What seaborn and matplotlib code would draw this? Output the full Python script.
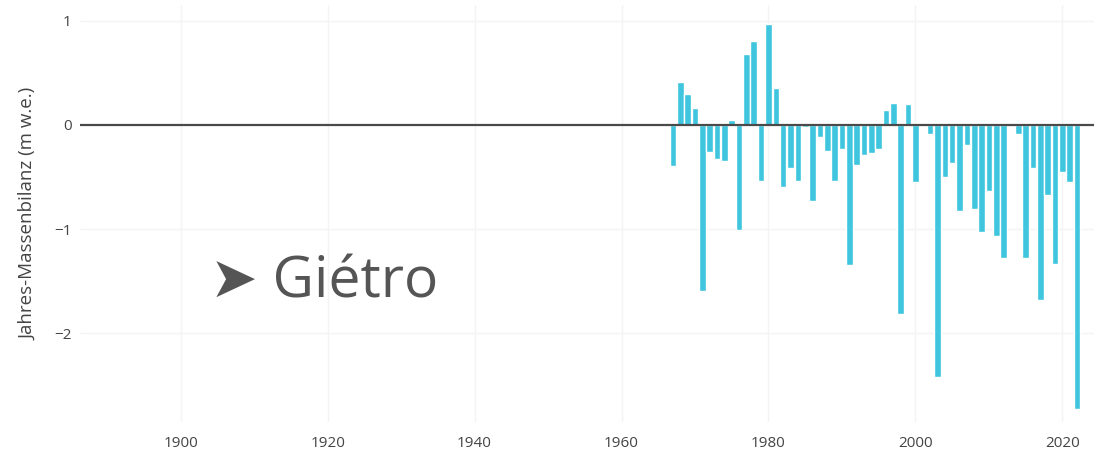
import numpy as np
import pandas as pd
import matplotlib
matplotlib.use("Agg")
import matplotlib.pyplot as plt
import seaborn as sns

# Annual mass balance, Giétro glacier (m w.e.)
years = list(range(1967, 2023))
balance = [
    -0.39, 0.41, 0.30, 0.16, -1.59, -0.26, -0.33, -0.35, 0.05, -1.01,
    0.68, 0.80, -0.54, 0.97, 0.35, -0.60, -0.41, -0.54, -0.02, -0.73,
    -0.12, -0.25, -0.54, -0.23, -1.34, -0.38, -0.29, -0.27, -0.23, 0.14,
    0.21, -1.81, 0.20, -0.55, 0.01, -0.09, -2.42, -0.50, -0.37, -0.83,
    -0.19, -0.81, -1.03, -0.63, -1.07, -1.28, 0.02, -0.09, -1.28, -0.41,
    -1.68, -0.67, -1.33, -0.45, -0.55, -2.73,
]
xticks = [1900, 1920, 1940, 1960, 1980, 2000, 2020]
yticks = [1, 0, -1, -2]

df = pd.DataFrame({"Jahr": years, "Bilanz": balance})

sns.set_style("white")
plt.rcParams["font.family"] = ["Open Sans", "DejaVu Sans"]

fig = plt.figure(figsize=(10.94, 4.51), dpi=100)
ax = fig.add_axes([80 / 1094, 1 - 422 / 451, 1 - 80 / 1094, 417 / 451])

sns.barplot(data=df, x="Jahr", y="Bilanz", native_scale=True, color="#3fc5dd",
            saturation=1, width=0.9, ax=ax, zorder=3)

ax.axhline(0, color="#4a4a4a", lw=1.6, zorder=4)
for x in xticks:
    ax.axvline(x, color="#f4f4f4", lw=1, zorder=0)
for y in [1, -1, -2]:
    ax.axhline(y, color="#f4f4f4", lw=1, zorder=0)

ax.set_xlim(1886.3, 2024.3)
ax.set_ylim(-2.85, 1.15)
ax.set_xticks(xticks)
ax.set_yticks(yticks)
ax.set_yticklabels(["1", "0", "\u22121", "\u22122"])
ax.tick_params(axis="both", length=0, labelsize=11, colors="#444444")
ax.tick_params(axis="x", pad=10)
ax.tick_params(axis="y", pad=6)
for s in ax.spines.values():
    s.set_visible(False)

ax.set_xlabel("")
ax.set_ylabel("Jahres-Massenbilanz (m w.e.)", fontsize=13.5, color="#444444", labelpad=12)

fig.text(210 / 1094, 1 - 297 / 451, "\u27a4 Giétro", fontsize=41, color="#555555",
         ha="left", va="baseline", family=["Open Sans", "DejaVu Sans"])

fig.savefig("out.png", dpi=100)
